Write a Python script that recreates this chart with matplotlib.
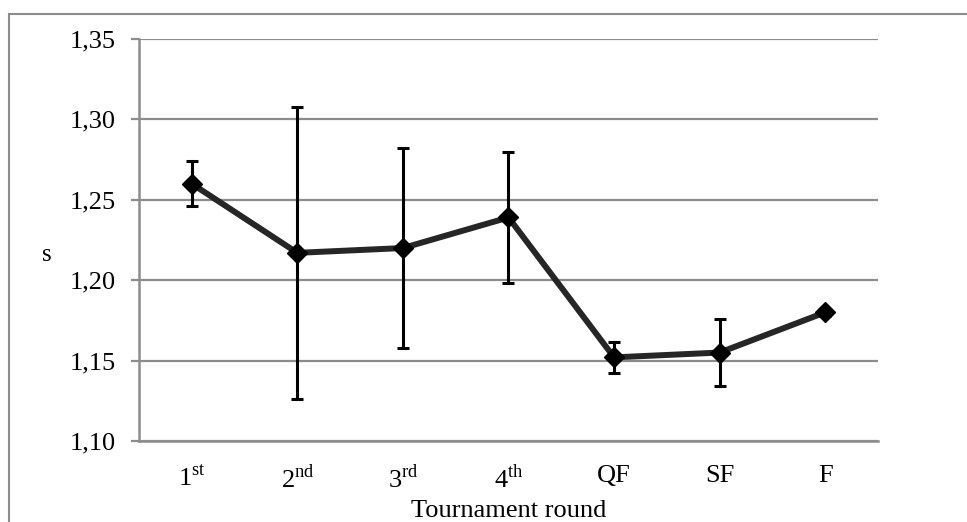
import matplotlib
matplotlib.use("Agg")
from matplotlib import pyplot as plt
from matplotlib.patches import Rectangle

plt.rcParams['font.family'] = ['Liberation Serif', 'DejaVu Serif']
plt.rcParams['mathtext.fontset'] = 'custom'
plt.rcParams['mathtext.rm'] = 'Liberation Serif'

# data
rounds = ['1$^{\\mathrm{st}}$', '2$^{\\mathrm{nd}}$', '3$^{\\mathrm{rd}}$', '4$^{\\mathrm{th}}$', 'QF', 'SF', 'F']
times = [1.260, 1.217, 1.220, 1.239, 1.152, 1.155, 1.180]
errors = [0.014, 0.091, 0.062, 0.041, 0.0095, 0.021, 0.002]
yticks = [1.10, 1.15, 1.20, 1.25, 1.30, 1.35]
ytick_labels = ['1,10', '1,15', '1,20', '1,25', '1,30', '1,35']

fig = plt.figure(figsize=(9.67, 5.22), dpi=100)
ax = fig.add_axes([0.1437, 0.1552, 0.7643, 0.7701])

x = list(range(len(rounds)))
ax.errorbar(x, times, yerr=errors, fmt='none', ecolor='black', elinewidth=2.2,
            capsize=4.5, capthick=2.2, zorder=3)
ax.plot(x, times, color='#262626', linewidth=4.3, marker='D', markersize=10.5,
        markerfacecolor='black', markeredgecolor='black', zorder=4)

ax.set_xlim(-0.5, 6.5)
ax.set_ylim(1.10, 1.35)
ax.set_yticks(yticks)
ax.set_yticklabels(ytick_labels)
ax.set_xticks(x)
ax.set_xticklabels(rounds)

ax.grid(True, axis='y', color='#8c8c8c', linewidth=1.6)
ax.set_axisbelow(True)
for side in ['top', 'right']:
    ax.spines[side].set_visible(False)
for side in ['left', 'bottom']:
    ax.spines[side].set_color('#8c8c8c')
    ax.spines[side].set_linewidth(1.8)

ax.tick_params(axis='y', length=6, width=1.6, color='#8c8c8c', labelsize=19, pad=11)
ax.tick_params(axis='x', length=0, labelsize=19, pad=17)

ax.set_xlabel('Tournament round', fontsize=19)
ax.xaxis.set_label_coords(0.5, -0.148)
ax.set_ylabel('s', fontsize=18, rotation=0, labelpad=0)
ax.yaxis.set_label_coords(-0.125, 0.435)

# outer frame around the chart
fig.patches.append(Rectangle((9 / 967, -0.1), 1.0, 0.1 + (522 - 14) / 522,
                             transform=fig.transFigure, fill=False,
                             edgecolor='#8c8c8c', linewidth=1.5))

fig.savefig('out.png', dpi=100, facecolor='white')
